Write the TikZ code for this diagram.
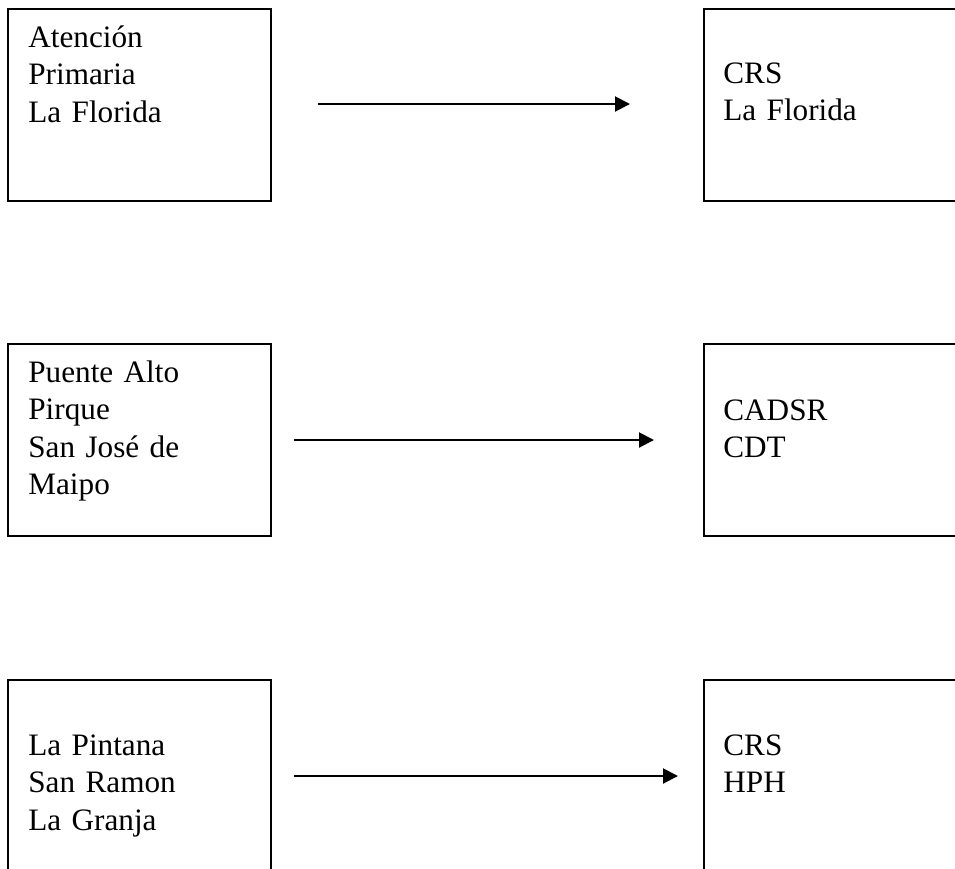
\documentclass[tikz,border=0pt]{standalone}
\usepackage{fontspec}
\setmainfont{Liberation Serif}
\usetikzlibrary{arrows.meta,positioning}

\begin{document}
\begin{tikzpicture}[
  x=0.5pt, y=-0.5pt,
  font=\fontsize{15.6}{18.75}\selectfont,
  caja/.style={rectangle, draw=black, line width=1pt, anchor=north west,
               minimum width=131.5pt, minimum height=96pt, inner sep=0pt},
  texto/.style={align=left, text width=118pt, inner sep=0pt},
  flecha/.style={-{Triangle[length=7.5pt, width=7.5pt]}, line width=1pt}
]
\clip (0,0) rectangle (955,869);
% cajas de origen
\node[caja] (ap)  at (7,8)   {};
\node[caja] (pa)  at (7,343) {};
\node[caja] (lp)  at (7,679) {};
% cajas de destino
\node[caja] (crs) at (703,8)   {};
\node[caja] (cad) at (703,343) {};
\node[caja] (hph) at (703,679) {};
% textos
\node[texto, below right=19.5pt and 10.5pt of ap.north west, anchor=base west] (apt) {Atención\\Primaria\\La Florida};
\node[texto, below right=19.5pt and 10.5pt of pa.north west, anchor=base west] (pat) {Puente Alto\\Pirque\\San José de\\Maipo};
\node[texto, below right=38pt and 10.5pt of lp.north west, anchor=base west] (lpt) {La Pintana\\San Ramon\\La Granja};
\node[texto, below right=37.5pt and 10pt of crs.north west, anchor=base west] (crst) {CRS\\La Florida};
\node[texto, below right=38.5pt and 10pt of cad.north west, anchor=base west] (cadt) {CADSR\\CDT};
\node[texto, below right=38pt and 10pt of hph.north west, anchor=base west] (hpht) {CRS\\HPH};
% flechas
\coordinate (f1a) at (318,104);
\coordinate (f1b) at (630,104);
\coordinate (f2a) at (294,440);
\coordinate (f2b) at (654,440);
\coordinate (f3a) at (294,776);
\coordinate (f3b) at (678,776);
\draw[flecha] (f1a) -- (f1b);
\draw[flecha] (f2a) -- (f2b);
\draw[flecha] (f3a) -- (f3b);
\end{tikzpicture}
\end{document}
